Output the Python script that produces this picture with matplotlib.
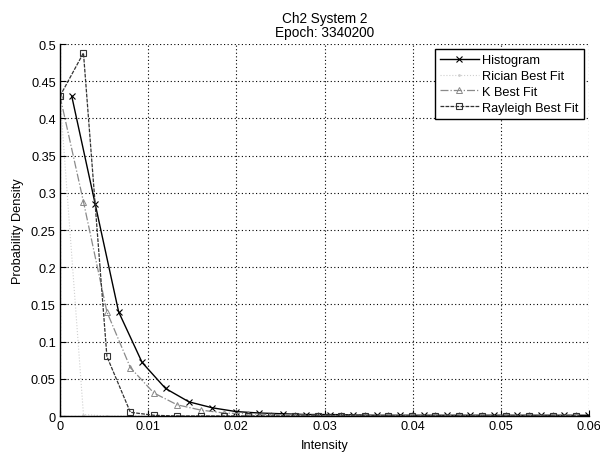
import numpy as np
import matplotlib
matplotlib.use("Agg")
import matplotlib.pyplot as plt

plt.rcParams['font.family'] = ['Liberation Sans', 'DejaVu Sans']

# bin width of the intensity histogram
bin_width = 0.00266
n_bins = 23

# histogram bins are plotted at bin centres, fits at bin edges
x_hist = (np.arange(n_bins) + 0.5) * bin_width
x_fit = np.arange(n_bins) * bin_width

histogram = [0.43, 0.285, 0.14, 0.072, 0.037, 0.019, 0.011, 0.006, 0.004,
             0.003, 0.002, 0.002, 0.0015, 0.001, 0.001, 0.001, 0.001, 0.001,
             0.001, 0.001, 0.001, 0.001, 0.001]
rician_fit = [0.43, 0.002, 0.0, 0.0, 0.0, 0.0, 0.0, 0.0, 0.0, 0.0, 0.0, 0.0,
              0.0, 0.0, 0.0, 0.0, 0.0, 0.0, 0.0, 0.0, 0.0, 0.0, 0.0]
k_fit = [0.43, 0.288, 0.14, 0.065, 0.031, 0.015, 0.008, 0.004, 0.003, 0.002,
         0.0015, 0.001, 0.001, 0.001, 0.001, 0.001, 0.001, 0.001, 0.001,
         0.001, 0.001, 0.001, 0.001]
rayleigh_fit = [0.43, 0.488, 0.08, 0.005, 0.001, 0.0, 0.0, 0.0, 0.0, 0.0, 0.0,
                0.0, 0.0, 0.0, 0.0, 0.0, 0.0, 0.0, 0.0, 0.0, 0.0, 0.0, 0.0]

x_ticks = [0, 0.01, 0.02, 0.03, 0.04, 0.05, 0.06]
x_tick_labels = ['0', '0.01', '0.02', '0.03', '0.04', '0.05', '0.06']
y_ticks = [0, 0.05, 0.1, 0.15, 0.2, 0.25, 0.3, 0.35, 0.4, 0.45, 0.5]
y_tick_labels = ['0', '0.05', '0.1', '0.15', '0.2', '0.25', '0.3', '0.35',
                 '0.4', '0.45', '0.5']

fig = plt.figure(figsize=(6.0, 4.56), dpi=100)
ax = fig.add_axes([0.1, 0.0855, 0.8817, 0.8158])

ax.plot(x_hist, histogram, color='black', lw=1.0, marker='x', ms=4,
        mew=0.8, label='Histogram')
ax.plot(x_fit, rician_fit, color='#cfcfcf', lw=0.8, ls=':', marker='.',
        ms=2, label='Rician Best Fit')
ax.plot(x_fit, k_fit, color='#8a8a8a', lw=0.9, ls='-.', marker='^', ms=4,
        mfc='none', mew=0.7, label='K Best Fit')
ax.plot(x_fit, rayleigh_fit, color='#333333', lw=0.9, ls=(0, (3, 1)),
        marker='s', ms=4, mfc='none', mew=0.8, label='Rayleigh Best Fit')

ax.set_xlim(0, 0.06)
ax.set_ylim(0, 0.5)
ax.set_xticks(x_ticks)
ax.set_xticklabels(x_tick_labels)
ax.set_yticks(y_ticks)
ax.set_yticklabels(y_tick_labels)
ax.tick_params(direction='in', length=4, width=0.8, labelsize=9.2,
               colors='black', pad=3)

for side in ('top', 'right'):
    ax.spines[side].set_visible(False)
for side in ('left', 'bottom'):
    ax.spines[side].set_linewidth(1.0)
    ax.spines[side].set_color('black')

ax.grid(True, color='black', ls=(0, (1, 2.2)), lw=0.8)
ax.set_axisbelow(True)

ax.set_title('Ch2 System 2\nEpoch: 3340200', fontsize=9.8, linespacing=1.0,
             pad=6)
ax.set_xlabel('Intensity', fontsize=9.2, labelpad=5)
ax.set_ylabel('Probability Density', fontsize=9.2, labelpad=5)

leg = ax.legend(loc='upper right', fontsize=9.2, frameon=True, fancybox=False,
                framealpha=1.0, edgecolor='black', borderaxespad=0.4,
                handlelength=3.0, handletextpad=0.3, labelspacing=0.3,
                borderpad=0.4)
leg.get_frame().set_linewidth(1.0)

fig.savefig('out.png', dpi=100, facecolor='white')
